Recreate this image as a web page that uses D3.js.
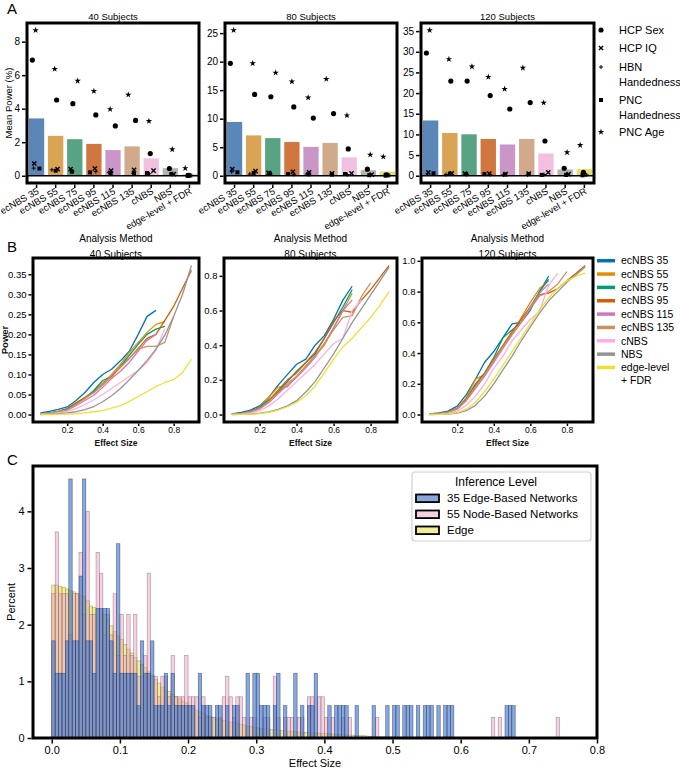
<!DOCTYPE html>
<html><head><meta charset="utf-8">
<script src="https://cdn.jsdelivr.net/npm/d3@7"></script>
<style>body{margin:0;background:#fff} svg{display:block}</style>
</head><body>
<svg id="chart" width="680" height="769"></svg>
<script>
// ---------------- DATA ----------------
const methods = ["ecNBS 35","ecNBS 55","ecNBS 75","ecNBS 95","ecNBS 115","ecNBS 135","cNBS","NBS","edge-level + FDR"];
const subjectTitles = ["40 Subjects","80 Subjects","120 Subjects"];
const barColors = ["#5b87b8","#d9a453","#58a383","#d0773f","#c996c7","#d0aa8a","#f1c0e0","#b3b3b3","#e5df66"];
const lineColors = ["#0173b2","#de8f05","#029e73","#d55e00","#cc78bc","#ca9161","#fbafe4","#949494","#ece133"];
const markerLabels = ["HCP Sex","HCP IQ","HBN|Handedness","PNC|Handedness","PNC Age"];
const lineLegendLabels = ["ecNBS 35","ecNBS 55","ecNBS 75","ecNBS 95","ecNBS 115","ecNBS 135","cNBS","NBS","edge-level|+ FDR"];

// Panel A: mean power (%) bars
const meanPower40  = [3.42, 2.38, 2.18, 1.90, 1.53, 1.75, 1.04, 0.45, 0.10];
const meanPower80  = [9.43, 7.07, 6.60, 5.92, 5.06, 5.75, 3.22, 0.98, 0.75];
const meanPower120 = [13.37, 10.34, 10.02, 8.90, 7.56, 8.90, 5.40, 1.50, 1.60];
// Panel A: per-dataset points
const hcpSex40  = [6.90, 4.52, 4.30, 3.63, 2.97, 3.30, 1.32, 0.43, 0.02];
const hcpIQ40   = [0.73, 0.39, 0.40, 0.43, 0.30, 0.35, 0.30, 0.10, 0.02];
const hbnHand40 = [0.45, 0.35, 0.28, 0.25, 0.20, 0.15, 0.12, 0.12, 0.01];
const pncHand40 = [0.43, 0.30, 0.24, 0.20, 0.16, 0.14, 0.16, 0.10, 0.00];
const pncAge40  = [8.68, 6.37, 5.66, 5.05, 3.97, 4.83, 3.26, 1.57, 0.45];
const hcpSex80  = [19.7, 14.25, 13.85, 12.07, 10.1, 10.9, 4.70, 1.15, 0.15];
const hcpIQ80   = [1.15, 0.80, 0.50, 0.70, 0.60, 0.40, 0.40, 0.20, 0.10];
const hbnHand80 = [0.70, 0.30, 0.30, 0.25, 0.30, 0.30, 0.20, 0.10, 0.05];
const pncHand80 = [0.60, 0.50, 0.40, 0.30, 0.25, 0.20, 0.30, 0.10, 0.05];
const pncAge80  = [25.5, 19.7, 18.05, 16.5, 13.7, 16.95, 10.57, 3.68, 3.33];
const hcpSex120  = [29.7, 22.9, 22.9, 19.4, 16.15, 17.7, 8.40, 1.80, 0.80];
const hcpIQ120   = [0.80, 0.60, 0.50, 0.50, 0.40, 0.50, 0.80, 0.40, 0.30];
const hbnHand120 = [0.50, 0.30, 0.30, 0.30, 0.20, 0.20, 0.30, 0.20, 0.20];
const pncHand120 = [0.60, 0.50, 0.40, 0.40, 0.30, 0.40, 0.20, 0.20, 0.10];
const pncAge120  = [35.2, 28.2, 26.4, 23.9, 21.0, 26.1, 17.65, 5.65, 7.40];
const yTicksA40 = [0,2,4,6,8];
const yTicksA80 = [0,5,10,15,20,25];
const yTicksA120 = [0,5,10,15,20,25,30,35];

// Panel B: power vs effect size
const effectSizes = [0.05,0.10,0.15,0.20,0.25,0.30,0.35,0.40,0.45,0.50,0.55,0.60,0.65,0.70,0.75,0.80,0.85,0.90];
const p40_ecNBS35  = [0.004,0.008,0.013,0.019,0.035,0.055,0.080,0.100,0.113,0.134,0.158,0.200,0.245,0.260];
const p40_ecNBS55  = [0.002,0.004,0.008,0.014,0.030,0.043,0.058,0.078,0.100,0.125,0.155,0.180,0.205,0.225,0.232];
const p40_ecNBS75  = [0.002,0.004,0.008,0.015,0.028,0.040,0.060,0.085,0.095,0.120,0.148,0.175,0.200,0.213,0.220];
const p40_ecNBS95  = [0.002,0.003,0.007,0.013,0.028,0.042,0.055,0.075,0.095,0.118,0.140,0.165,0.190,0.200,0.235,0.270,0.315,0.360];
const p40_ecNBS115 = [0.001,0.003,0.006,0.011,0.022,0.035,0.048,0.068,0.090,0.108,0.130,0.158,0.185,0.200];
const p40_ecNBS135 = [0.001,0.003,0.007,0.012,0.025,0.040,0.055,0.075,0.098,0.118,0.140,0.163,0.170,0.170,0.180,0.245];
const p40_cNBS     = [0.001,0.002,0.004,0.008,0.015,0.025,0.037,0.050,0.065,0.080,0.095,0.110,0.130,0.160,0.215];
const p40_NBS      = [0.000,0.001,0.002,0.004,0.007,0.012,0.020,0.032,0.047,0.065,0.087,0.110,0.135,0.163,0.198,0.245,0.300,0.372];
const p40_FDR      = [0.000,0.000,0.001,0.001,0.002,0.004,0.007,0.010,0.016,0.022,0.033,0.045,0.057,0.070,0.080,0.087,0.105,0.138];

const p80_ecNBS35  = [0.004,0.012,0.025,0.050,0.100,0.170,0.230,0.290,0.320,0.400,0.455,0.550,0.660,0.740];
const p80_ecNBS55  = [0.002,0.007,0.017,0.040,0.100,0.160,0.160,0.220,0.280,0.340,0.400,0.500,0.600,0.700];
const p80_ecNBS75  = [0.002,0.006,0.016,0.040,0.085,0.130,0.190,0.250,0.300,0.350,0.440,0.530,0.620,0.720];
const p80_ecNBS95  = [0.002,0.006,0.015,0.038,0.080,0.140,0.200,0.240,0.300,0.360,0.440,0.540,0.600,0.590,0.660,0.720,0.790,0.860];
const p80_ecNBS115 = [0.001,0.005,0.013,0.032,0.070,0.120,0.170,0.215,0.270,0.330,0.410,0.500,0.600,0.660];
const p80_ecNBS135 = [0.001,0.005,0.014,0.035,0.075,0.125,0.180,0.220,0.280,0.340,0.410,0.490,0.560,0.570,0.680,0.760];
const p80_cNBS     = [0.001,0.003,0.009,0.022,0.050,0.090,0.140,0.190,0.240,0.290,0.350,0.410,0.440,0.600,0.660];
const p80_NBS      = [0.000,0.001,0.003,0.008,0.016,0.030,0.050,0.080,0.130,0.190,0.270,0.350,0.440,0.530,0.610,0.690,0.770,0.850];
const p80_FDR      = [0.000,0.001,0.002,0.005,0.012,0.025,0.045,0.070,0.110,0.165,0.240,0.320,0.390,0.440,0.500,0.560,0.630,0.710];

const p120_ecNBS35  = [0.004,0.010,0.022,0.055,0.130,0.230,0.340,0.410,0.500,0.590,0.600,0.680,0.800,0.900];
const p120_ecNBS55  = [0.002,0.006,0.015,0.040,0.110,0.230,0.260,0.350,0.440,0.530,0.630,0.730,0.820,0.870];
const p120_ecNBS75  = [0.002,0.006,0.015,0.040,0.100,0.200,0.270,0.370,0.500,0.550,0.600,0.700,0.800,0.880];
const p120_ecNBS95  = [0.002,0.006,0.015,0.040,0.100,0.190,0.270,0.360,0.450,0.540,0.620,0.700,0.780,0.790,0.820,0.870,0.920,0.970];
const p120_ecNBS115 = [0.002,0.005,0.013,0.035,0.090,0.170,0.250,0.340,0.430,0.520,0.600,0.700,0.790,0.850];
const p120_ecNBS135 = [0.002,0.005,0.014,0.037,0.095,0.180,0.260,0.350,0.440,0.520,0.600,0.690,0.770,0.800,0.850,0.930];
const p120_cNBS     = [0.001,0.003,0.008,0.022,0.060,0.120,0.200,0.300,0.380,0.480,0.550,0.620,0.670,0.840,0.920];
const p120_NBS      = [0.000,0.001,0.003,0.010,0.025,0.060,0.120,0.200,0.290,0.380,0.480,0.570,0.660,0.740,0.800,0.860,0.910,0.960];
const p120_FDR      = [0.000,0.001,0.004,0.012,0.035,0.080,0.150,0.230,0.320,0.410,0.500,0.590,0.680,0.760,0.820,0.870,0.900,0.920];

const power40  = [p40_ecNBS35,p40_ecNBS55,p40_ecNBS75,p40_ecNBS95,p40_ecNBS115,p40_ecNBS135,p40_cNBS,p40_NBS,p40_FDR];
const power80  = [p80_ecNBS35,p80_ecNBS55,p80_ecNBS75,p80_ecNBS95,p80_ecNBS115,p80_ecNBS135,p80_cNBS,p80_NBS,p80_FDR];
const power120 = [p120_ecNBS35,p120_ecNBS55,p120_ecNBS75,p120_ecNBS95,p120_ecNBS115,p120_ecNBS135,p120_cNBS,p120_NBS,p120_FDR];
const xTicksB = [0.2,0.4,0.6,0.8];
const yTicksB40 = [0,0.05,0.10,0.15,0.20,0.25,0.30,0.35];
const yTicksB80 = [0,0.2,0.4,0.6,0.8];
const yTicksB120 = [0,0.2,0.4,0.6,0.8,1.0];

// Panel C: histogram of effect sizes (bin width 0.005 from 0)
const histBinWidth = 0.005;
const histLabels = ["35 Edge-Based Networks","55 Node-Based Networks","Edge"];
const histColors = ["#4a78c8","#eaa3c3","#e8e050"];
const edgeNetTotal = 175;   // one network = 1/175 of the count
const nodeNetTotal = 275;   // one network = 1/275 of the count
const edgeNetCounts = [
 3,2,2,2,3,8,3,3,5,8,3,3,2,4,4,4,4,3,2,6,
 2,2,2,2,2,1,3,2,2,3,1,1,1,2,1,2,1,1,1,1,
 1,1,0,2,1,1,1,0,1,1,0,1,0,1,1,0,0,2,0,2,
 2,1,1,1,0,1,2,0,1,0,0,2,0,1,0,1,1,2,0,0,
 0,1,0,1,1,1,1,0,0,1,0,0,0,0,1,0,0,0,1,0,
 1,1,0,1,1,1,0,1,0,1,1,1,0,1,0,1,1,1,0,0,
 0,0,0,0,0,0,0,0,0,0,0,0,0,1,1,1,0,0,0,0,
 0,0,0,0,0,0,0,0,0,0];
const nodeNetCounts = [
 7,10,7,7,7,5,7,7,9,6,11,6,6,9,8,5,6,5,7,4,
 6,4,6,4,6,3,3,4,8,3,3,2,3,3,2,4,2,2,2,4,
 2,2,2,1,2,1,1,1,0,1,2,3,2,1,2,2,1,0,1,1,
 0,0,1,1,0,3,1,0,1,1,1,0,1,1,0,2,2,0,2,2,
 1,0,1,0,0,1,0,1,0,0,0,0,0,0,0,1,0,0,0,0,
 0,0,0,0,0,0,0,0,0,0,0,0,0,0,0,0,0,0,0,0,
 0,0,0,0,0,0,0,0,0,1,0,1,0,0,0,0,0,0,0,0,
 0,0,0,0,0,0,0,0,1,0];
const edgePercent = [
 2.70,2.70,2.68,2.66,2.63,2.60,2.58,2.55,2.52,2.50,2.42,2.33,2.30,2.27,2.25,2.18,2.10,1.98,1.88,1.80,
 1.74,1.65,1.57,1.50,1.42,1.36,1.30,1.24,1.17,1.10,1.03,0.97,0.90,0.86,0.82,0.77,0.73,0.69,0.65,0.62,
 0.57,0.52,0.49,0.46,0.43,0.40,0.38,0.36,0.35,0.33,0.31,0.30,0.28,0.27,0.26,0.24,0.23,0.21,0.20,0.19,
 0.18,0.17,0.165,0.16,0.15,0.145,0.14,0.13,0.125,0.12,0.115,0.11,0.105,0.10,0.10,0.095,0.09,0.09,0.085,0.08,
 0.08,0.075,0.07,0.07,0.065,0.06,0.055,0.05,0.05,0.045,0.04,0.04,0.035,0.03,0.03,0.025,0.02,0.02,0.015,0.015,
 0.01,0.01,0.01,0.008,0.006,0.005,0.004,0.003,0.002,0.002,0.001,0,0,0,0,0,0,0,0,0,
 0,0,0,0,0,0,0,0,0,0,0,0,0,0,0,0,0,0,0,0,
 0,0,0,0,0,0,0,0,0,0];
const xTicksC = [0,0.1,0.2,0.3,0.4,0.5,0.6,0.7,0.8];
const yTicksC = [0,1,2,3,4];

// ---------------- DRAWING ----------------
const FONT = "'Liberation Sans', Arial, Helvetica, sans-serif";
const svg = d3.select("#chart").attr("font-family", FONT);

function frame(x0, y0, x1, y1) {
  svg.append("rect").attr("x", x0).attr("y", y0).attr("width", x1 - x0).attr("height", y1 - y0)
    .attr("fill", "none").attr("stroke", "#000").attr("stroke-width", 3);
}
function styleAxis(g, fs) {
  g.select(".domain").remove();
  g.selectAll(".tick line").attr("stroke", "#000").attr("stroke-width", 1.5);
  g.selectAll(".tick text").attr("font-size", fs).attr("fill", "#000").attr("font-family", FONT);
}
function panelLetter(t, x, y) {
  svg.append("text").attr("x", x).attr("y", y).attr("font-size", 15).text(t);
}

// marker shapes
const markerPath = [
  d3.symbol(d3.symbolCircle, 21)(),
  "M-2.1,-2.1L2.1,2.1M-2.1,2.1L2.1,-2.1",
  "M-2,0H2M0,-2V2",
  d3.symbol(d3.symbolSquare, 16)(),
  d3.symbol(d3.symbolStar, 13)()
];
const markerStroke = [false, true, true, false, false];
function drawMarker(g, k, x, y) {
  const p = g.append("path").attr("d", markerPath[k]).attr("transform", `translate(${x},${y})`);
  if (markerStroke[k]) p.attr("fill", "none").attr("stroke", "#000").attr("stroke-width", k === 1 ? 1.4 : 1);
  else p.attr("fill", "#000");
}

// ---------- Panel A ----------
panelLetter("A", 7, 14);
const panelsA = [
  {title: subjectTitles[0], bars: meanPower40, pts: [hcpSex40,hcpIQ40,hbnHand40,pncHand40,pncAge40], ticks: yTicksA40, x0: 27, x1: 199},
  {title: subjectTitles[1], bars: meanPower80, pts: [hcpSex80,hcpIQ80,hbnHand80,pncHand80,pncAge80], ticks: yTicksA80, x0: 225, x1: 397},
  {title: subjectTitles[2], bars: meanPower120, pts: [hcpSex120,hcpIQ120,hbnHand120,pncHand120,pncAge120], ticks: yTicksA120, x0: 421, x1: 594}
];
const jitterA = [[-0.22,0.10,-0.05,0.15,-0.20],[0.0,-0.12,0.05,0.12,-0.05],[0.18,-0.05,-0.15,0.1,-0.1]];
panelsA.forEach((p, pi) => {
  const y0 = 23, y1 = 183;
  const x = d3.scaleBand().domain(methods).range([p.x0, p.x1]).paddingInner(0.2).paddingOuter(0.1);
  const mx = d3.max([p.bars, ...p.pts].flat());
  const y = d3.scaleLinear().domain([-0.05 * mx, 1.05 * mx]).range([y1, y0]);
  const g = svg.append("g");
  g.selectAll("rect.bar").data(p.bars).join("rect")
    .attr("x", (d, i) => x(methods[i])).attr("width", x.bandwidth())
    .attr("y", d => y(d)).attr("height", d => y(0) - y(d))
    .attr("fill", (d, i) => barColors[i]);
  g.append("line").attr("x1", p.x0).attr("x2", p.x1).attr("y1", y(0)).attr("y2", y(0))
    .attr("stroke", "#000").attr("stroke-width", 1.5);
  p.pts.forEach((arr, k) => {
    arr.forEach((v, i) => {
      const jit = jitterA[(i + k) % 3][(i * 2 + k) % 5] * x.step();
      drawMarker(g, k, x(methods[i]) + x.bandwidth() / 2 + jit, y(v));
    });
  });
  frame(p.x0, y0, p.x1, y1);
  const ay = svg.append("g").attr("transform", `translate(${p.x0 - 1.5},0)`)
    .call(d3.axisLeft(y).tickValues(p.ticks).tickSize(3.5).tickPadding(2));
  styleAxis(ay, 10);
  const ax = svg.append("g").attr("transform", `translate(0,${y1 + 1.5})`)
    .call(d3.axisBottom(x).tickSize(3.5).tickFormat(""));
  styleAxis(ax, 9.5);
  methods.forEach(m => {
    svg.append("text").attr("transform", `translate(${x(m) + x.bandwidth() / 2 + 3},${y1 + 10}) rotate(-30)`)
      .attr("text-anchor", "end").attr("font-size", 9.5).text(m);
  });
  svg.append("text").attr("x", (p.x0 + p.x1) / 2).attr("y", 20).attr("text-anchor", "middle")
    .attr("font-size", 9.5).text(p.title);
});
svg.append("text").attr("transform", "translate(12,103) rotate(-90)").attr("text-anchor", "middle")
  .attr("font-size", 9.5).text("Mean Power (%)");
// legend A
const legAy = [[30],[48],[67,82],[100,115],[132]];
markerLabels.forEach((lab, k) => {
  const lines = lab.split("|");
  drawMarker(svg, k, 601, legAy[k][0]);
  lines.forEach((t, j) => svg.append("text").attr("x", 619).attr("y", legAy[k][j] + 4)
    .attr("font-size", 11).text(t));
});

// ---------- Panel B ----------
panelLetter("B", 7, 252);
const panelsB = [
  {title: subjectTitles[0], lines: power40, ticks: yTicksB40, fmt: ".2f", x0: 33, x1: 199},
  {title: subjectTitles[1], lines: power80, ticks: yTicksB80, fmt: ".1f", x0: 224, x1: 397},
  {title: subjectTitles[2], lines: power120, ticks: yTicksB120, fmt: ".1f", x0: 422, x1: 593}
];
panelsB.forEach(p => {
  const y0 = 258, y1 = 422;
  const xe = d3.extent(effectSizes), xr = xe[1] - xe[0];
  const x = d3.scaleLinear().domain([xe[0] - 0.05 * xr, xe[1] + 0.05 * xr]).range([p.x0, p.x1]);
  const ye = d3.extent(p.lines.flat()), yr = ye[1] - ye[0];
  const y = d3.scaleLinear().domain([ye[0] - 0.05 * yr, ye[1] + 0.05 * yr]).range([y1, y0]);
  const line = d3.line().x((d, i) => x(effectSizes[i])).y(d => y(d));
  p.lines.forEach((arr, k) => {
    svg.append("path").attr("d", line(arr)).attr("fill", "none")
      .attr("stroke", lineColors[k]).attr("stroke-width", 1.3).attr("stroke-linejoin", "round");
  });
  frame(p.x0, y0, p.x1, y1);
  const ay = svg.append("g").attr("transform", `translate(${p.x0 - 1.5},0)`)
    .call(d3.axisLeft(y).tickValues(p.ticks).tickFormat(d3.format(p.fmt)).tickSize(3).tickPadding(2));
  styleAxis(ay, 9.5);
  const ax = svg.append("g").attr("transform", `translate(0,${y1 + 1.5})`)
    .call(d3.axisBottom(x).tickValues(xTicksB).tickFormat(d3.format(".1f")).tickSize(2.5).tickPadding(1));
  styleAxis(ax, 8.5);
  const cx = (p.x0 + p.x1) / 2;
  svg.append("text").attr("x", cx).attr("y", 445.5).attr("text-anchor", "middle").attr("font-size", 8.5)
    .attr("font-weight", "bold").attr("fill", "#111").text("Effect Size");
  svg.append("text").attr("x", cx).attr("y", 241.5).attr("text-anchor", "middle").attr("font-size", 10)
    .text("Analysis Method");
  svg.append("text").attr("x", cx).attr("y", 257.5).attr("text-anchor", "middle").attr("font-size", 10)
    .text(p.title);
});
svg.append("text").attr("transform", "translate(8,340) rotate(-90)").attr("text-anchor", "middle")
  .attr("font-size", 9.5).attr("font-weight", "bold").attr("fill", "#111").text("Power");
// legend B
lineLegendLabels.forEach((lab, k) => {
  const yy = 260.7 + k * 13.35;
  svg.append("line").attr("x1", 597).attr("x2", 615).attr("y1", yy).attr("y2", yy)
    .attr("stroke", lineColors[k]).attr("stroke-width", 3.5);
  lab.split("|").forEach((t, j) => svg.append("text").attr("x", 621).attr("y", yy + 3.7 + j * 12.5)
    .attr("font-size", 10.5).text(t));
});

// ---------- Panel C ----------
panelLetter("C", 7, 465);
{
  const x0 = 33, x1 = 597, y0 = 466, y1 = 738;
  const x = d3.scaleLinear().domain([-0.0275, 0.8]).range([x0, x1]);
  const y = d3.scaleLinear().domain([0, 4.8]).range([y1, y0]);
  const series = [
    {vals: edgePercent, color: histColors[2], op: 0.6, stroke: "#8f8a3a"},
    {vals: nodeNetCounts.map(c => c / nodeNetTotal * 100), color: histColors[1], op: 0.5, stroke: "#8d6676"},
    {vals: edgeNetCounts.map(c => c / edgeNetTotal * 100), color: histColors[0], op: 0.65, stroke: "#1e3a6e"}
  ];
  series.forEach(s => {
    const g = svg.append("g");
    g.selectAll("rect").data(s.vals.map((v, i) => ({v, i})).filter(d => d.v > 0)).join("rect")
      .attr("x", d => x(d.i * histBinWidth)).attr("width", d => x((d.i + 1) * histBinWidth) - x(d.i * histBinWidth))
      .attr("y", d => y(d.v)).attr("height", d => y(0) - y(d.v))
      .attr("fill", s.color).attr("fill-opacity", s.op)
      .attr("stroke", s.stroke).attr("stroke-opacity", 0.7).attr("stroke-width", 0.6);
  });
  frame(x0, y0, x1, y1);
  const ay = svg.append("g").attr("transform", `translate(${x0 - 1.5},0)`)
    .call(d3.axisLeft(y).tickValues(yTicksC).tickFormat(d3.format("d")).tickSize(4).tickPadding(3));
  styleAxis(ay, 11);
  const ax = svg.append("g").attr("transform", `translate(0,${y1 + 1.5})`)
    .call(d3.axisBottom(x).tickValues(xTicksC).tickFormat(d3.format(".1f")).tickSize(4).tickPadding(3));
  styleAxis(ax, 11);
  svg.append("text").attr("x", (x0 + x1) / 2).attr("y", 767).attr("text-anchor", "middle")
    .attr("font-size", 11).text("Effect Size");
  svg.append("text").attr("transform", "translate(15,602) rotate(-90)").attr("text-anchor", "middle")
    .attr("font-size", 11).text("Percent");
  // legend
  const lg = svg.append("g");
  lg.append("rect").attr("x", 412).attr("y", 472).attr("width", 179).attr("height", 69).attr("rx", 3)
    .attr("fill", "#fff").attr("fill-opacity", 0.85).attr("stroke", "#d0d0d0").attr("stroke-width", 1.2);
  lg.append("text").attr("x", 496).attr("y", 486).attr("text-anchor", "middle").attr("font-size", 12)
    .text("Inference Level");
  [0, 1, 2].forEach((k, j) => {
    const yy = 498.3 + j * 16;
    lg.append("rect").attr("x", 416).attr("y", yy - 3.8).attr("width", 23).attr("height", 7.6)
      .attr("fill", histColors[k]).attr("fill-opacity", k === 0 ? 0.65 : (k === 1 ? 0.5 : 0.6))
      .attr("stroke", "#000").attr("stroke-width", 1.8);
    lg.append("text").attr("x", 447).attr("y", yy + 4).attr("font-size", 11.5).text(histLabels[k]);
  });
}
</script>
</body></html>
